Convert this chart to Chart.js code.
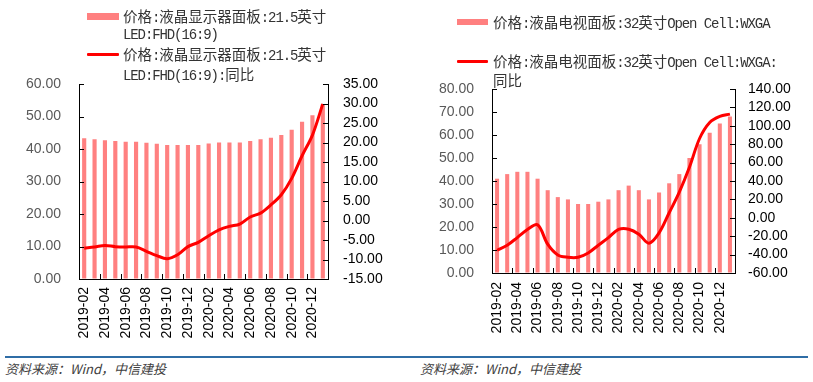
<!DOCTYPE html>
<html>
<head>
<meta charset="utf-8">
<script src="https://cdn.jsdelivr.net/npm/chart.js@4.4.1/dist/chart.umd.min.js"></script>
<style>
  body{margin:0;width:813px;height:382px;position:relative;background:#fff;overflow:hidden}
  canvas{position:absolute;top:0}
  .leg{position:absolute;white-space:nowrap;color:#333;font-family:"Liberation Mono",monospace;font-size:14px;letter-spacing:-1.1px;height:20px;line-height:20px}
  .leg .c{font-family:"Noto Sans CJK SC",sans-serif;font-size:14.5px;letter-spacing:0;line-height:20px}
  .patch{position:absolute;background:rgb(255,128,128)}
  .rline{position:absolute;background:#ff0000;border-radius:1px}
  .src{position:absolute;top:360px;font-family:"Noto Sans CJK SC",sans-serif;font-style:italic;font-size:13px;line-height:18px;color:#404040;white-space:nowrap}
</style>
</head>
<body>
<canvas id="c1" width="400" height="350" style="left:0"></canvas>
<canvas id="c2" width="413" height="350" style="left:400px"></canvas>

<div class="patch" style="left:87px;top:13px;width:32px;height:7px"></div>
<div class="leg" style="left:123px;top:6px"><span class="c">价格</span>:<span class="c">液晶显示器面板</span>:21.5<span class="c">英寸</span></div>
<div class="leg" style="left:123px;top:25px">LED:FHD(16:9)</div>
<div class="rline" style="left:87px;top:53px;width:32px;height:3px"></div>
<div class="leg" style="left:123px;top:44px"><span class="c">价格</span>:<span class="c">液晶显示器面板</span>:21.5<span class="c">英寸</span></div>
<div class="leg" style="left:123px;top:64px">LED:FHD(16:9):<span class="c">同比</span></div>

<div class="patch" style="left:457px;top:19px;width:31px;height:6px"></div>
<div class="leg" style="left:493px;top:12px"><span class="c">价格</span>:<span class="c">液晶电视面板</span>:32<span class="c">英寸</span>Open Cell:WXGA</div>
<div class="rline" style="left:457px;top:60px;width:31px;height:3px"></div>
<div class="leg" style="left:493px;top:51px"><span class="c">价格</span>:<span class="c">液晶电视面板</span>:32<span class="c">英寸</span>Open Cell:WXGA:</div>
<div class="leg" style="left:493px;top:70px"><span class="c">同比</span></div>

<div style="position:absolute;left:5px;top:356px;width:803px;height:2px;background:#2F6DA6"></div>
<div class="src" style="left:5px">资料来源：Wind，中信建投</div>
<div class="src" style="left:420px">资料来源：Wind，中信建投</div>

<script>
const categories = ['2019-02','2019-03','2019-04','2019-05','2019-06','2019-07','2019-08','2019-09','2019-10','2019-11','2019-12','2020-01',
  '2020-02','2020-03','2020-04','2020-05','2020-06','2020-07','2020-08','2020-09','2020-10','2020-11','2020-12','2021-01'];

const monitorPrice = [43.3,43.0,42.7,42.5,42.2,42.2,41.9,41.6,41.2,41.2,41.2,41.2,41.7,42.0,42.0,42.0,42.5,43.0,43.5,44.3,45.9,48.4,50.4,53.8];
const monitorYoY = [-7.1,-6.8,-6.4,-6.7,-6.8,-6.8,-7.9,-9.0,-9.8,-8.8,-6.7,-5.6,-3.9,-2.4,-1.5,-0.9,0.9,1.9,4.0,6.6,10.8,16.6,21.9,29.9];

const tvPrice = [41,43,44,44,41,36,33,32,30,30,31,32,36,38,36,32,35,39,43,50,56,61,65,68];
const tvYoY = [-35.3,-29.8,-21.5,-12.7,-7.6,-28.7,-40.4,-42.9,-42.9,-38.2,-29.8,-21.5,-12.7,-12.4,-17.8,-27.6,-16.4,5.5,28,54.9,86.2,103.6,110.2,112.7];

const monitorLabels = ['价格:液晶显示器面板:21.5英寸LED:FHD(16:9)','价格:液晶显示器面板:21.5英寸LED:FHD(16:9):同比'];
const tvLabels = ['价格:液晶电视面板:32英寸Open Cell:WXGA','价格:液晶电视面板:32英寸Open Cell:WXGA:同比'];

Chart.defaults.font.family = '"Liberation Sans", Arial, sans-serif';
Chart.defaults.font.size = 14;
Chart.defaults.animation = false;

const innerTicks = {
  id: 'innerTicks',
  afterDraw(chart) {
    const ctx = chart.ctx, a = chart.chartArea, s = chart.scales;
    ctx.save();
    ctx.strokeStyle = '#000';
    ctx.lineWidth = 1;
    ctx.beginPath();
    s.y.ticks.forEach(t => { const p = Math.round(s.y.getPixelForValue(t.value)) + 0.5; ctx.moveTo(a.left, p); ctx.lineTo(a.left + 5, p); });
    s.y1.ticks.forEach(t => { const p = Math.round(s.y1.getPixelForValue(t.value)) + 0.5; ctx.moveTo(a.right, p); ctx.lineTo(a.right - 5, p); });
    for (let i = 2; i < categories.length; i += 2) {
      const p = Math.round((s.x.getPixelForValue(i - 1) + s.x.getPixelForValue(i)) / 2) + 0.5;
      ctx.moveTo(p, a.bottom); ctx.lineTo(p, a.bottom - 5);
    }
    ctx.stroke();
    ctx.restore();
  }
};

function makeChart(id, labels, bars, line, yMin, yMax, yStep, y1Min, y1Max, y1Step, geo) {
  return new Chart(document.getElementById(id), {
    type: 'bar',
    data: {
      labels: categories,
      datasets: [
        { type: 'line', label: labels[1], data: line, yAxisID: 'y1', borderColor: '#ff0000', borderWidth: 3,
          pointRadius: 0, tension: 0.35, order: 0, fill: false },
        { type: 'bar', label: labels[0], data: bars, yAxisID: 'y', backgroundColor: 'rgb(255,128,128)',
          categoryPercentage: 1, barPercentage: 0.4, order: 1 }
      ]
    },
    options: {
      responsive: false,
      layout: { padding: { top: geo.top, left: 0, right: 0, bottom: 0 } },
      plugins: { legend: { display: false }, tooltip: { enabled: false } },
      scales: {
        x: {
          grid: { display: false, drawTicks: false },
          border: { display: true, color: '#000', width: 1 },
          ticks: { autoSkip: false, maxRotation: 90, minRotation: 90, padding: geo.xPad, color: '#000',
            callback: (v, i) => i % 2 === 0 ? categories[i] : '' },
          afterFit: sc => { sc.height = geo.xH; }
        },
        y: {
          position: 'left', min: yMin, max: yMax,
          grid: { drawOnChartArea: false, drawTicks: false },
          border: { display: true, color: '#000', width: 1 },
          ticks: { stepSize: yStep, autoSkip: false, padding: geo.yPad, color: '#595959', callback: v => Number(v).toFixed(2) },
          afterFit: sc => { sc.width = geo.yW; }
        },
        y1: {
          position: 'right', min: y1Min, max: y1Max,
          grid: { drawOnChartArea: false, drawTicks: false },
          border: { display: true, color: '#000', width: 1 },
          ticks: { stepSize: y1Step, autoSkip: false, padding: geo.y1Pad, color: '#000', callback: v => Number(v).toFixed(2) },
          afterFit: sc => { sc.width = geo.y1W; }
        }
      }
    },
    plugins: [innerTicks]
  });
}

makeChart('c1', monitorLabels, monitorPrice, monitorYoY, 0, 60, 10, -15, 35, 5,
  { top: 84, xH: 71, yW: 79, y1W: 72, yPad: 18, y1Pad: 15, xPad: 8 });
makeChart('c2', tvLabels, tvPrice, tvYoY, 0, 80, 10, -60, 140, 20,
  { top: 89, xH: 77, yW: 92, y1W: 78, yPad: 18, y1Pad: 13, xPad: 9 });
</script>
</body>
</html>
